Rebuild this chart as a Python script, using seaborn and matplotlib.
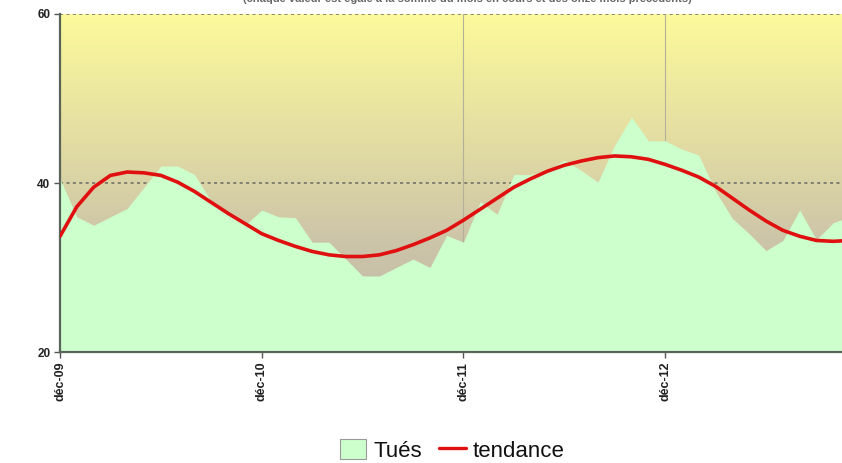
import numpy as np
import pandas as pd
import matplotlib
matplotlib.use('Agg')
import matplotlib.pyplot as plt
import seaborn as sns
from matplotlib.colors import LinearSegmentedColormap
from matplotlib.patches import Patch
from matplotlib.lines import Line2D

# ---------- data (one value per month, from déc-09) ----------
tues = [40.5, 36.0, 35.0, 36.0, 37.0, 39.5, 42.0, 42.0, 41.0, 37.8,
        36.3, 35.0, 36.8, 36.0, 35.9, 33.0, 33.0, 31.0, 29.0, 29.0,
        30.0, 31.0, 30.0, 33.8, 33.0, 37.8, 36.3, 41.0, 41.0, 41.5,
        42.7, 41.5, 40.1, 44.5, 47.8, 45.0, 45.0, 44.0, 43.3, 39.0,
        35.8, 34.0, 32.0, 33.2, 36.8, 33.3, 35.3, 36.0]
tendance = [33.7, 37.2, 39.5, 40.9, 41.3, 41.2, 40.9, 40.1, 39.0, 37.7,
            36.4, 35.2, 34.0, 33.2, 32.5, 31.9, 31.5, 31.3, 31.3, 31.5,
            32.0, 32.7, 33.5, 34.4, 35.6, 36.9, 38.2, 39.5, 40.5, 41.4,
            42.1, 42.6, 43.0, 43.2, 43.1, 42.8, 42.2, 41.5, 40.7, 39.6,
            38.2, 36.8, 35.5, 34.4, 33.7, 33.2, 33.1, 33.2]
tick_months = [0, 12, 24, 36]
tick_labels = ['déc-09', 'déc-10', 'déc-11', 'déc-12']
y_ticks = [20, 40, 60]

df = pd.DataFrame({'mois': np.arange(len(tues)), 'tues': tues, 'tendance': tendance})

sns.set_theme(style='white')
plt.rcParams['font.family'] = ['Liberation Sans', 'DejaVu Sans']

fig = plt.figure(figsize=(8.42, 4.63), dpi=100)
ax = fig.add_axes([0.0713, 0.2397, 0.9287, 0.7301])

x_max = 46.52

# gradient background (yellow at top, greyish beige lower down)
cmap = LinearSegmentedColormap.from_list('bg', ['#bdb6a8', '#cdc5a8', '#e6e0a2', '#fcfa9b'])
grad = np.linspace(0, 1, 256).reshape(-1, 1)
ax.imshow(grad, extent=[0, x_max, 20, 60], origin='lower', aspect='auto',
          cmap=cmap, zorder=0)

# grid
for yv in [40, 60]:
    ax.axhline(yv, color='#6a6a60', lw=1.1, ls=(0, (2, 2.2)), zorder=1)
for xv in [24, 36]:
    ax.axvline(xv, color='#b5b09a', lw=0.8, zorder=1)

# area + trend
ax.fill_between(df['mois'], 20, df['tues'], color='#ccffcc', lw=0, zorder=2)
sns.lineplot(data=df, x='mois', y='tendance', color='#e01010', lw=2.6, ax=ax, zorder=3,
             solid_joinstyle='round', solid_capstyle='round')

ax.set_xlim(0, x_max)
ax.set_ylim(20, 60)
ax.set_xticks(tick_months)
ax.set_xticklabels(tick_labels, rotation=90, fontsize=9, fontweight='bold', color='#222')
ax.set_yticks(y_ticks)
ax.set_yticklabels([str(v) for v in y_ticks], fontsize=8.5, fontweight='bold', color='#222')
ax.set_xlabel('')
ax.set_ylabel('')
ax.tick_params(axis='both', direction='out', length=4, width=1, color='#555', pad=3, bottom=True, left=True)

for side in ['top', 'right']:
    ax.spines[side].set_visible(False)
for side in ['left', 'bottom']:
    ax.spines[side].set_color('#5a6358')
    ax.spines[side].set_linewidth(1.6)

# cut-off subtitle at the very top
fig.text(0.555, 1.002, '(chaque valeur est égale à la somme du mois en cours et des onze mois précédents)',
         ha='center', va='center', fontsize=8, fontweight='bold', color='#666')

handles = [Patch(facecolor='#ccffcc', edgecolor='#999', lw=0.8),
           Line2D([0], [0], color='#e01010', lw=2.4)]
leg = fig.legend(handles, ['Tués', 'tendance'], loc='center', bbox_to_anchor=(0.537, 0.027),
                 ncol=2, frameon=False, fontsize=16, handlelength=1.2, handleheight=1.0,
                 handletextpad=0.3, columnspacing=0.8)
for t in leg.get_texts():
    t.set_color('#111')

fig.savefig('out.png', dpi=100)
